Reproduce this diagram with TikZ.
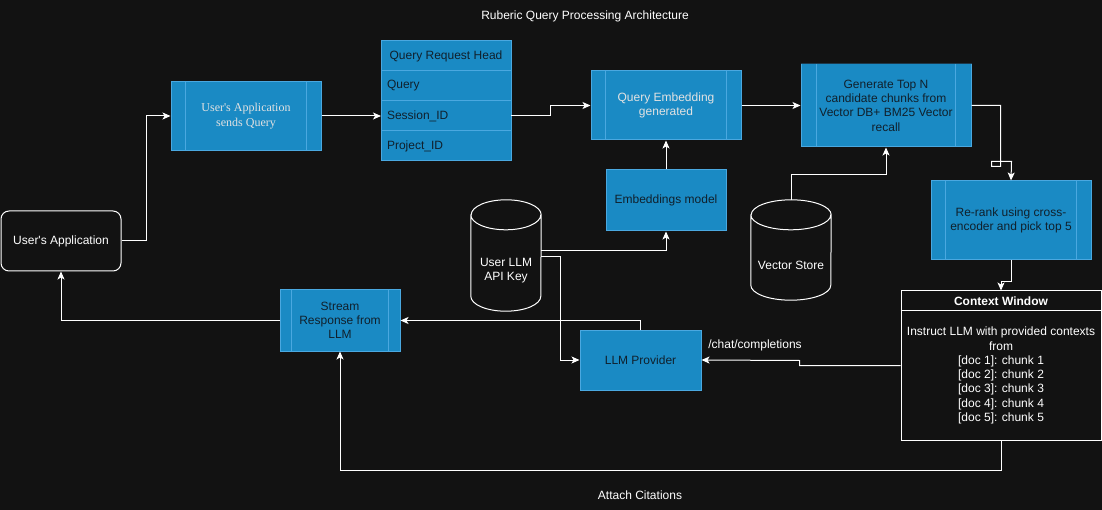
\documentclass[tikz,border=0pt]{standalone}
\usepackage{fontspec}
\setmainfont{Liberation Sans}
\newfontfamily\timesfont{Liberation Serif}
\usetikzlibrary{arrows.meta}

\definecolor{bg}{HTML}{121212}
\definecolor{boxfill}{HTML}{1A8AC4}
\definecolor{boxline}{HTML}{4AA8E0}
\definecolor{boxtext}{HTML}{10202C}
\definecolor{lighttext}{HTML}{E2E2E2}
\definecolor{darkedge}{HTML}{1C3A4E}

\tikzset{
  box/.style={draw=boxline, fill=boxfill, text=boxtext, align=center, inner sep=0pt,
    line width=1pt, font=\fontsize{12}{14.3}\selectfont},
  row/.style={box, outer sep=0pt, minimum width=130pt, minimum height=30pt, text width=118pt, align=left},
  plain/.style={text=white, align=center, inner sep=0pt, font=\fontsize{12}{14.3}\selectfont},
  store/.style={plain, minimum height=70pt},
  link/.style={white, line width=1pt, -{Stealth[length=8pt,width=7pt,inset=2pt]}},
}

% cylinder outline round a node: #1 node, #2 x radius, #3 y radius
\newcommand\storeoutline[3]{%
  \draw[white, line width=1pt] ([yshift=#3pt]#1.north west) -- ([yshift=#3pt]#1.south west)
    arc[start angle=180, end angle=360, x radius=#2pt, y radius=#3pt]
    -- ([yshift=#3pt]#1.north east)
    arc[start angle=0, end angle=180, x radius=#2pt, y radius=#3pt] -- cycle
    ([yshift=#3pt]#1.north west) arc[start angle=180, end angle=360, x radius=#2pt, y radius=#3pt];}

\begin{document}
\begin{tikzpicture}[x=1pt, y=-1pt]
  \fill[bg] (0,0) rectangle (1102,510);
  \useasboundingbox (0,0) rectangle (1102,510);

  % titles
  \node[plain] (title) at (585,16) {Ruberic Query Processing Architecture};
  \node[plain] (cite) at (640,495) {Attach Citations};

  % left side
  \node[plain, draw=white, fill=bg, line width=1pt, rounded corners=8pt,
    minimum width=120pt, minimum height=60pt] (userapp) at (61,241) {User\textquotesingle s Application};
  \node[box, minimum width=150pt, minimum height=69pt, font=\timesfont\fontsize{12}{14.3}\selectfont,
    text=lighttext] (sendq) at (246,116) {User\textquotesingle s Application\\sends Query};

  % query request head
  \node[box, outer sep=0pt, minimum width=130pt, minimum height=30pt] (qhead) at (446,56) {Query Request Head};
  \node[row, anchor=north] (qrow1) at (qhead.south) {Query};
  \node[row, anchor=north] (qrow2) at (qrow1.south) {Session\_ID};
  \node[row, anchor=north] (qrow3) at (qrow2.south) {Project\_ID};

  % top row
  \node[box, minimum width=150pt, minimum height=69pt, text=lighttext] (qembed) at (666,105.5)
    {Query Embedding\\generated};
  \node[box, minimum width=170pt, minimum height=83pt] (topn) at (886,105.5)
    {Generate Top N\\candidate chunks from\\Vector DB+ BM25 Vector\\recall};
  \draw[darkedge, line width=1.5pt] (topn.north west) -- (topn.north east);
  \node[box, minimum width=160pt, minimum height=79pt] (rerank) at (1011,220.5)
    {Re-rank using cross-\\encoder and pick top 5};
  \node[box, minimum width=120pt, minimum height=61pt] (embed) at (666,200.5) {Embeddings model};

  % stores
  \node[store, minimum width=70pt, minimum height=81pt] (apikey) at (506,270.5) {User LLM\\API Key};
  \storeoutline{apikey}{35}{15}
  \node[store, minimum width=80pt] (vstore) at (791,265) {Vector Store};
  \storeoutline{vstore}{40}{15}

  % bottom row
  \node[box, minimum width=120pt, minimum height=61pt] (stream) at (340,320.5)
    {Stream\\Response from\\LLM};
  \node[box, minimum width=121pt, minimum height=60pt] (llm) at (640.5,360) {LLM Provider};

  % side bars of the process boxes
  \foreach \n/\d in {sendq/15, qembed/15, topn/16, rerank/15, stream/12} {
    \draw[boxline, line width=1pt] ([xshift=\d pt, yshift=-0.5pt]\n.north west) -- ([xshift=\d pt]\n.south west);
    \draw[boxline, line width=1pt] ([xshift=-\d pt, yshift=-0.5pt]\n.north east) -- ([xshift=-\d pt]\n.south east);
  }

  % context window
  \node[draw=white, line width=1pt, minimum width=200pt, minimum height=149pt, inner sep=0pt]
    (ctx) at (1001,365.5) {};
  \draw[white, line width=1pt] ([yshift=-20pt]ctx.north west) -- ([yshift=-20pt]ctx.north east);
  \node[plain, font=\bfseries\fontsize{12}{14.3}\selectfont] (ctxhead) at (1001,301) {Context Window};
  \node[plain] (ctxbody) at (1001,375.5) {Instruct LLM with provided contexts\\from\\{[doc 1]: chunk 1}\\
    {[doc 2]: chunk 2}\\ {[doc 3]: chunk 3}\\ {[doc 4]: chunk 4}\\ {[doc 5]: chunk 5}};

  \node[plain] (chatlbl) at (755,345) {/chat/completions};

  % connectors
  \draw[link] (userapp.east) -- ++(25,0) |- (sendq.west);
  \draw[link] (sendq.east) -- (sendq.east -| qrow2.west);
  \draw[link] (qrow2.east) -- ++(39,0) |- (qembed.west);
  \draw[link] (qembed.east) -- (topn.west);
  \draw[link] (topn.east) -| ++(29,61) -- ++(-9,0) -- ++(0,-5) -- ++(20,0) -- (rerank.north);
  \draw[link] ([yshift=30pt]vstore.north) -- ++(0,-25) -| (topn.south);
  \draw[link] (embed.north) -- (qembed.south);
  \draw[link] ([yshift=20pt]apikey.east) -| (embed.south);
  \draw[link] ([yshift=14pt]apikey.east) -- ++(19,0) |- (llm.west);
  \draw[link] (llm.north) |- (stream.east);
  \draw[link] (stream.west) -| (userapp.south);
  \draw[link] (rerank.south) -- ++(0,21) -| (ctx.north);
  \draw[link] (ctx.west) -- ++(-101,0) -- ++(0,-5) -- (llm.east);
  \draw[link] (ctx.south) -- ++(0,30) -| (stream.south);
\end{tikzpicture}
\end{document}
